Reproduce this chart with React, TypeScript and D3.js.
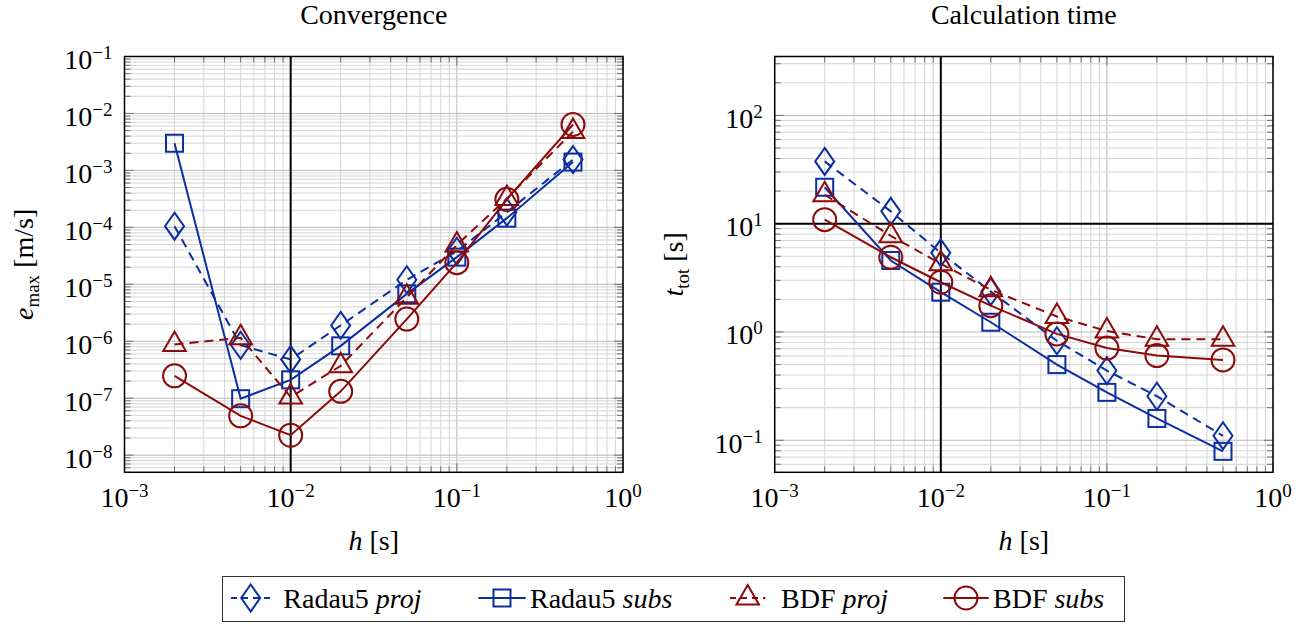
import * as d3 from "d3";

const H = [0.002, 0.005, 0.01, 0.02, 0.05, 0.1, 0.2, 0.5];

const errRadauProj = [1.05e-4, 8.5e-7, 4.8e-7, 1.9e-6, 1.2e-5, 3.8e-5, 1.85e-4, 1.55e-3];
const errRadauSubs = [3.0e-3, 9.8e-8, 2.1e-7, 8.3e-7, 6.8e-6, 3.0e-5, 1.45e-4, 1.4e-3];
const errBdfProj = [8.8e-7, 1.15e-6, 1.05e-7, 3.7e-7, 5.9e-6, 4.9e-5, 3.2e-4, 4.8e-3];
const errBdfSubs = [2.47e-7, 4.9e-8, 2.24e-8, 1.32e-7, 2.45e-6, 2.4e-5, 3.1e-4, 6.4e-3];

const timeRadauProj = [37.6, 13.0, 5.38, 2.36, 0.83, 0.44, 0.255, 0.11];
const timeRadauSubs = [21.7, 4.57, 2.33, 1.23, 0.5, 0.277, 0.159, 0.079];
const timeBdfProj = [18.5, 7.73, 4.26, 2.45, 1.39, 1.02, 0.857, 0.857];
const timeBdfSubs = [10.9, 4.9, 2.88, 1.75, 0.96, 0.71, 0.605, 0.552];

const xTickExps = [-3, -2, -1, 0];
const errTickExps = [-8, -7, -6, -5, -4, -3, -2, -1];
const timeTickExps = [-1, 0, 1, 2];

const BLUE = "#0b2ea0";
const RED = "#8b0a0a";
const FONT = "Tinos";

const seriesStyles = [
  { name: "Radau5", method: "proj", color: BLUE, dash: "9,6", mark: "diamond" },
  { name: "Radau5", method: "subs", color: BLUE, dash: null, mark: "square" },
  { name: "BDF", method: "proj", color: RED, dash: "9,6", mark: "triangle" },
  { name: "BDF", method: "subs", color: RED, dash: null, mark: "circle" },
];

function Marker({ kind, x, y, color }) {
  const common = { fill: "none", stroke: color, strokeWidth: 2 };
  if (kind === "diamond") {
    return <path d={`M${x},${y - 13.5}L${x + 9.5},${y}L${x},${y + 13.5}L${x - 9.5},${y}Z`} {...common} />;
  }
  if (kind === "square") {
    return <rect x={x - 8.5} y={y - 8.5} width={17} height={17} {...common} />;
  }
  if (kind === "triangle") {
    const r = 13;
    const s = r * Math.sqrt(3) / 2;
    return <path d={`M${x},${y - r}L${x + s},${y + r / 2}L${x - s},${y + r / 2}Z`} {...common} />;
  }
  return <circle cx={x} cy={y} r={11.5} {...common} />;
}

function Power({ exp, x, y, anchor }) {
  return (
    <text x={x} y={y} textAnchor={anchor} fontFamily={FONT} fontSize={28} fill="#000">
      10
      <tspan dy={-10} fontSize={19}>{exp < 0 ? `\u2212${-exp}` : `${exp}`}</tspan>
    </text>
  );
}

function Panel({ left, right, top, bottom, yDomain, yExps, data, title, yLabel, labelX, hline }) {
  const x = d3.scaleLog().domain([1e-3, 1]).range([left, right]);
  const y = d3.scaleLog().domain(yDomain).range([bottom, top]);
  const isMajor = (v) => Math.abs(Math.log10(v) - Math.round(Math.log10(v))) < 1e-9;
  const xTicks = x.ticks();
  const yTicks = y.ticks().filter((v) => v >= yDomain[0] && v <= yDomain[1]);
  const line = d3
    .line()
    .x((d) => x(d[0]))
    .y((d) => y(d[1]));
  const cx = (left + right) / 2;
  const cy = (top + bottom) / 2;

  return (
    <g>
      <text x={cx} y={24} textAnchor="middle" fontFamily={FONT} fontSize={28}>{title}</text>

      {xTicks.map((v) => (
        <line key={`gx${v}`} x1={x(v)} x2={x(v)} y1={top} y2={bottom}
          stroke={isMajor(v) ? "#b8b8b8" : "#d4d4d4"} strokeWidth={1} />
      ))}
      {yTicks.map((v) => (
        <line key={`gy${v}`} x1={left} x2={right} y1={y(v)} y2={y(v)}
          stroke={isMajor(v) ? "#b8b8b8" : "#d4d4d4"} strokeWidth={1} />
      ))}

      {xTicks.map((v) => {
        const len = isMajor(v) ? 9 : 6;
        return (
          <g key={`tx${v}`} stroke="#707070" strokeWidth={1}>
            <line x1={x(v)} x2={x(v)} y1={bottom} y2={bottom - len} />
            <line x1={x(v)} x2={x(v)} y1={top} y2={top + len} />
          </g>
        );
      })}
      {yTicks.map((v) => {
        const len = isMajor(v) ? 9 : 6;
        return (
          <g key={`ty${v}`} stroke="#707070" strokeWidth={1}>
            <line x1={left} x2={left + len} y1={y(v)} y2={y(v)} />
            <line x1={right} x2={right - len} y1={y(v)} y2={y(v)} />
          </g>
        );
      })}

      <line x1={x(0.01)} x2={x(0.01)} y1={top} y2={bottom} stroke="#000" strokeWidth={2} />
      {hline != null && (
        <line x1={left} x2={right} y1={y(hline)} y2={y(hline)} stroke="#000" strokeWidth={2} />
      )}

      {data.map((vals, i) => {
        const st = seriesStyles[i];
        const pts = H.map((h, j) => [h, vals[j]]);
        return (
          <g key={`s${i}`}>
            <path d={line(pts)} fill="none" stroke={st.color} strokeWidth={2}
              strokeDasharray={st.dash || undefined} />
            {pts.map((p, j) => (
              <Marker key={j} kind={st.mark} x={x(p[0])} y={y(p[1])} color={st.color} />
            ))}
          </g>
        );
      })}

      <rect x={left} y={top} width={right - left} height={bottom - top} fill="none" stroke="#000" strokeWidth={1.5} />

      {xTickExps.map((e) => (
        <Power key={`lx${e}`} exp={e} x={x(Math.pow(10, e))} y={507} anchor="middle" />
      ))}
      {yExps.map((e) => (
        <Power key={`ly${e}`} exp={e} x={left - 12} y={y(Math.pow(10, e)) + 12.5} anchor="end" />
      ))}

      <text x={cx} y={550} textAnchor="middle" fontFamily={FONT} fontSize={28}>
        <tspan fontStyle="italic">h</tspan> [s]
      </text>
      <text transform={`translate(${labelX},${cy}) rotate(-90)`} textAnchor="middle" fontFamily={FONT} fontSize={28}>
        <tspan fontStyle="italic">{yLabel[0]}</tspan>
        <tspan dy={6} fontSize={19}>{yLabel[1]}</tspan>
        <tspan dy={-6}>{` ${yLabel[2]}`}</tspan>
      </text>
    </g>
  );
}

function Legend() {
  const items = [
    { lx: 231, mx: 250.7, tx: 283.3 },
    { lx: 478.3, mx: 502, tx: 530 },
    { lx: 730, mx: 747.7, tx: 781 },
    { lx: 943.3, mx: 966, tx: 993 },
  ];
  const ly = 598;
  return (
    <g>
      <rect x={222.5} y={576.5} width={902} height={45} fill="#fff" stroke="#333" strokeWidth={1} />
      {seriesStyles.map((st, i) => {
        const it = items[i];
        return (
          <g key={i}>
            <line x1={it.lx} x2={it.lx + (it.mx - it.lx) * 2} y1={ly} y2={ly} stroke={st.color}
              strokeWidth={2} strokeDasharray={st.dash ? "6,5" : undefined} />
            <Marker kind={st.mark} x={it.mx} y={ly} color={st.color} />
            <text x={it.tx} y={608} fontFamily={FONT} fontSize={28}>
              {st.name} <tspan fontStyle="italic">{st.method}</tspan>
            </text>
          </g>
        );
      })}
    </g>
  );
}

export default function App() {
  return (
    <div style={{ position: "absolute", left: 0, top: 0, width: 1309, height: 625, fontFamily: "Tinos, serif" }}>
      <svg width={1309} height={625} style={{ display: "block", background: "#fff" }}>
        <Panel left={124.5} right={623} top={56.5} bottom={472.3} yDomain={[5e-9, 1e-1]} yExps={errTickExps}
          data={[errRadauProj, errRadauSubs, errBdfProj, errBdfSubs]} title="Convergence"
          yLabel={["e", "max", "[m/s]"]} labelX={33} hline={null} />
        <Panel left={774.7} right={1273} top={56.5} bottom={472.3} yDomain={[0.0506, 350]} yExps={timeTickExps}
          data={[timeRadauProj, timeRadauSubs, timeBdfProj, timeBdfSubs]} title="Calculation time"
          yLabel={["t", "tot", "[s]"]} labelX={683} hline={10} />
        <Legend />
      </svg>
    </div>
  );
}
